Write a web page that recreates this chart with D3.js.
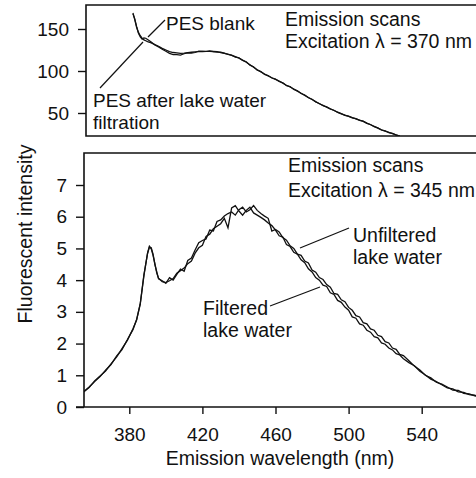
<!DOCTYPE html>
<html><head><meta charset="utf-8">
<script src="https://cdn.jsdelivr.net/npm/d3@7"></script>
<style>
html,body{margin:0;padding:0;background:#fff;}
svg{display:block;font-family:"Liberation Sans",Arial,Helvetica,sans-serif;}
</style></head>
<body>
<svg id="c" width="476" height="478"></svg>
<script>
// ---- DATA ----
const xTicks = [380, 420, 460, 500, 540];
const yTicksTop = [50, 100, 150];
const yTicksBottom = [0, 1, 2, 3, 4, 5, 6, 7];

// Top panel: emission scans, excitation 370 nm
const wlTop = [382,383,384,385,386,387,388,389,390,392,394,396,398,400,402,404,406,408,410,412,414,416,418,420,422,424,426,428,430,432,434,436,438,440,442,444,446,448,450,452,454,456,458,460,462,464,466,468,470,472,474,476,478,480,482,484,486,488,490,492,494,496,498,500,502,504,506,508,510,512,514,516,518,520,522,524,526,528];
const pesBlank = [169,161,152,146,142,139,137,136,135,133.5,131.5,129.5,127,125,123,122,121.5,121,121.3,121.8,122.3,122.8,123,123.2,123.4,123.4,123.2,123,122,121,120,118.5,117,115.3,113,110.5,107.5,104.5,101.5,99,96.5,94,92,90,88,85.5,83,81,78.5,76,73.5,71,68.5,66,63.5,61,59,57,55,53,51,49,47.5,46,44.5,43,41.5,40,38,36,34,32,30,28.5,27,25.5,24,22.5];
const pesAfter = [168,162,153,145,140.5,138,139.5,139,137.5,134.5,131,128.5,126,123.5,121,119.5,119.5,119,120.5,121.5,121.2,122,123.8,123.5,123.2,124,123.1,122.5,122.4,121.3,119.6,118.9,116.5,115.8,112.6,111,107,105,101,99.5,96,94.5,91.6,90.4,87.5,86,82.6,81.4,78.1,76.4,73.1,71.4,68.1,66.4,63.1,61.4,58.6,57.3,54.7,53.3,50.7,49.3,47.2,46.3,44.2,43.3,41.2,40.3,37.7,36.3,33.7,32.3,29.7,28.8,26.7,25.7,23.8,22.5];

// Bottom panel: emission scans, excitation 345 nm
const wlBottom = [355,358,361,364,367,370,373,376,379,382,384,386,388,390,391,392,393,394,395,396,398,400,402,404,406,408,410,412,414,416,418,420,422,424,426,428,430,432,434,436,438,440,442,444,446,448,450,452,454,456,458,460,462,464,466,468,470,472,474,476,478,480,482,484,486,488,490,492,494,496,498,500,502,504,506,508,510,512,514,516,518,520,522,524,526,528,530,533,536,539,542,545,548,551,554,557,560,563,566,569,572];
const filteredLake = [0.48,0.63,0.80,0.96,1.16,1.34,1.60,1.81,2.13,2.44,2.76,3.24,4.14,4.86,5.07,4.99,4.78,4.52,4.23,4.06,3.95,3.92,3.98,4.05,4.22,4.30,4.38,4.52,4.60,4.85,5.02,5.10,5.38,5.45,5.62,5.70,5.78,5.95,5.65,6.28,6.35,6.18,6.05,6.20,6.30,6.12,6.05,5.98,5.90,5.80,5.72,5.58,5.40,5.36,5.12,5.06,4.88,4.82,4.64,4.55,4.36,4.26,4.08,4.00,3.84,3.80,3.60,3.55,3.36,3.30,3.15,3.05,2.84,2.80,2.62,2.58,2.42,2.36,2.22,2.18,2.02,1.98,1.86,1.80,1.68,1.64,1.52,1.40,1.30,1.13,1.01,0.88,0.80,0.70,0.60,0.57,0.48,0.46,0.39,0.37,0.33];
const unfilteredLake = [0.47,0.61,0.82,0.98,1.13,1.36,1.57,1.84,2.11,2.47,2.74,3.27,4.17,4.84,5.04,5.02,4.82,4.49,4.27,4.04,3.98,3.90,4.08,4.00,4.18,4.35,4.28,4.62,4.70,4.95,5.18,5.25,5.30,5.58,5.55,5.85,5.90,6.02,6.10,6.15,6.05,6.22,6.30,6.15,6.22,6.35,6.20,6.10,6.02,5.95,5.55,5.60,5.52,5.34,5.26,5.08,5.00,4.82,4.78,4.60,4.54,4.32,4.25,4.08,4.02,3.86,3.78,3.58,3.55,3.38,3.32,3.14,3.05,2.88,2.84,2.66,2.62,2.46,2.42,2.26,2.22,2.06,2.02,1.86,1.82,1.66,1.62,1.46,1.29,1.17,1.00,0.92,0.78,0.72,0.63,0.53,0.52,0.43,0.41,0.35,0.34];

// ---- DRAW ----
const W = 476, H = 478;
const svg = d3.select("#c");
const FS = 19;
const FSA = 19.5;

const x = d3.scaleLinear().domain([380, 540]).range([129.3, 421.7]);

const pT = {left: 86, top: 5, bottom: 136};
const pB = {left: 84, top: 153, bottom: 407};

const yTop = d3.scaleLinear().domain([50, 150]).range([113, 29]);
const yBot = d3.scaleLinear().domain([0, 7]).range([407, 185]);

const defs = svg.append("defs");
defs.append("clipPath").attr("id","clipTop").append("rect")
  .attr("x", pT.left).attr("y", pT.top).attr("width", W - pT.left).attr("height", pT.bottom - pT.top);
defs.append("clipPath").attr("id","clipBot").append("rect")
  .attr("x", pB.left).attr("y", pB.top).attr("width", W - pB.left).attr("height", pB.bottom - pB.top);

function txt(g, xx, yy, s, fs) {
  return g.append("text").attr("x", xx).attr("y", yy).attr("font-size", fs || FS).attr("fill", "#111").text(s);
}
function leader(g, x1, y1, x2, y2) {
  g.append("line").attr("x1",x1).attr("y1",y1).attr("x2",x2).attr("y2",y2).attr("stroke","#111").attr("stroke-width",1.2);
}

// ---- Top panel ----
const gT = svg.append("g");
gT.append("path").attr("d", `M${W+2},${pT.top}H${pT.left}V${pT.bottom}H${W+2}`)
  .attr("fill","none").attr("stroke","#111").attr("stroke-width",1.6);
const axT = d3.axisLeft(yTop).tickValues(yTicksTop).tickSize(8).tickPadding(9).tickFormat(d3.format("d"));
const gAxT = gT.append("g").attr("transform", `translate(${pT.left},0)`).call(axT);
gAxT.select(".domain").remove();
gAxT.selectAll("line").attr("stroke","#111").attr("stroke-width",1.4);
gAxT.selectAll("text").attr("font-size",FS).attr("fill","#111").attr("font-family","Liberation Sans, Arial, sans-serif");

const lineTop = d3.line().x((d,i)=>x(wlTop[i])).y(d=>yTop(d));
const gcT = gT.append("g").attr("clip-path","url(#clipTop)");
gcT.append("path").attr("d", lineTop(pesBlank)).attr("fill","none").attr("stroke","#111").attr("stroke-width",1.3);
gcT.append("path").attr("d", lineTop(pesAfter)).attr("fill","none").attr("stroke","#111").attr("stroke-width",1.2);

txt(gT, 166, 30, "PES blank");
leader(gT, 165, 20, 148, 37);
txt(gT, 93, 107, "PES after lake water");
txt(gT, 93, 129, "filtration");
leader(gT, 100, 88, 143, 42);
txt(gT, 285, 26, "Emission scans", FSA);
txt(gT, 285, 48, "Excitation \u03bb = 370 nm", FSA);

// ---- Bottom panel ----
const gB = svg.append("g");
gB.append("path").attr("d", `M${W+2},${pB.top}H${pB.left}V${pB.bottom}`)
  .attr("fill","none").attr("stroke","#111").attr("stroke-width",1.6);

const axB = d3.axisLeft(yBot).tickValues(yTicksBottom).tickSize(8).tickPadding(9).tickFormat(d3.format("d"));
const gAxB = gB.append("g").attr("transform", `translate(${pB.left},0)`).call(axB);
gAxB.select(".domain").remove();
gAxB.selectAll("line").attr("stroke","#111").attr("stroke-width",1.4);
gAxB.selectAll("text").attr("font-size",FS).attr("fill","#111").attr("font-family","Liberation Sans, Arial, sans-serif");

const axX = d3.axisBottom(x).tickValues(xTicks).tickSize(7).tickPadding(14).tickFormat(d3.format("d"));
const gAxX = gB.append("g").attr("transform", `translate(0,${pB.bottom})`).call(axX);
gAxX.select(".domain").remove();
gB.append("line").attr("x1",pB.left-8).attr("x2",W+2).attr("y1",pB.bottom).attr("y2",pB.bottom).attr("stroke","#111").attr("stroke-width",1.6);
gAxX.selectAll("line").attr("stroke","#111").attr("stroke-width",1.4);
gAxX.selectAll("text").attr("font-size",FS).attr("fill","#111").attr("font-family","Liberation Sans, Arial, sans-serif");

const lineBot = d3.line().x((d,i)=>x(wlBottom[i])).y(d=>yBot(d));
const gcB = gB.append("g").attr("clip-path","url(#clipBot)");
gcB.append("path").attr("d", lineBot(filteredLake)).attr("fill","none").attr("stroke","#111").attr("stroke-width",1.3);
gcB.append("path").attr("d", lineBot(unfilteredLake)).attr("fill","none").attr("stroke","#111").attr("stroke-width",1.3);

txt(gB, 288, 172, "Emission scans", FSA);
txt(gB, 288, 197, "Excitation \u03bb = 345 nm", FSA);
txt(gB, 353, 242, "Unfiltered", FSA);
txt(gB, 353, 264, "lake water", FSA);
leader(gB, 349, 228, 300, 248);
txt(gB, 203, 315, "Filtered", FSA);
txt(gB, 203, 337, "lake water", FSA);
leader(gB, 270, 306, 320, 287);

svg.append("text").attr("x",280).attr("y",465).attr("text-anchor","middle").attr("font-size",FSA).attr("fill","#111").text("Emission wavelength (nm)");
svg.append("text").attr("transform","translate(32,234) rotate(-90)").attr("text-anchor","middle").attr("font-size",FSA).attr("fill","#111").text("Fluorescent intensity");
</script>
</body></html>
